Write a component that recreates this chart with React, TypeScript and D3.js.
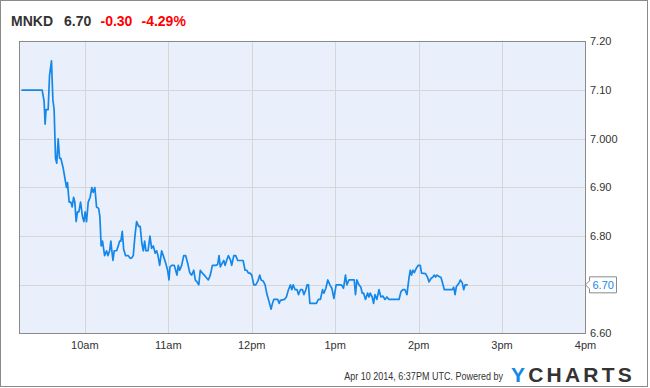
import React from "react";
import * as d3 from "d3";

// Ticker header
const ticker = "MNKD";
const lastPrice = "6.70";
const change = "-0.30";
const changePct = "-4.29%";

// Intraday series: minutes after midnight (ET) and price
const minutes = [
  554.4, 569.3, 570.7, 571.4, 572.1, 573.6, 574.6, 576.0, 577.0, 577.9, 578.9, 579.8, 580.8, 581.8, 582.7,
  584.4, 585.6, 586.8, 587.5, 588.7, 589.9, 590.9, 591.9, 592.8, 593.7, 594.7, 595.7, 596.9, 598.3, 599.3,
  600.2, 601.2, 602.4, 603.8, 605.0, 606.0, 607.2, 608.4, 609.9, 610.8, 611.7, 612.7, 614.2, 615.6, 616.6,
  617.8, 618.7, 619.4, 620.2, 621.1, 622.8, 624.0, 625.0, 625.9, 626.9, 627.9, 629.3, 631.2, 632.4, 633.6,
  634.8, 636.0, 637.2, 638.7, 639.8, 641.0, 642.0, 643.0, 643.9, 645.4, 646.8, 648.0, 649.2, 650.6, 651.6,
  652.6, 653.8, 655.2, 656.4, 658.1, 659.5, 660.5, 661.2, 662.4, 664.3, 665.3, 666.2, 667.2, 668.2, 669.6,
  671.1, 672.5, 673.9, 675.4, 676.8, 678.3, 679.4, 680.6, 681.9, 683.0, 684.5, 685.9, 687.3, 688.8, 690.2,
  691.7, 694.1, 695.5, 696.5, 697.4, 698.9, 699.9, 700.8, 702.2, 703.2, 704.6, 705.6, 707.1, 708.5, 709.9,
  713.8, 715.2, 716.4, 717.6, 718.8, 720.0, 721.5, 722.9, 724.3, 725.8, 726.7, 728.2, 729.6, 731.0, 732.5,
  733.9, 734.9, 735.9, 738.7, 739.7, 740.6, 743.5, 744.9, 746.4, 747.8, 748.8, 749.8, 751.2, 752.6, 753.6,
  755.0, 756.5, 757.5, 758.9, 759.8, 760.8, 761.8, 766.5, 767.9, 769.4, 770.9, 771.9, 773.3, 774.7, 776.2,
  777.6, 779.1, 780.7, 784.5, 786.0, 787.4, 788.4, 789.9, 793.7, 794.6, 795.6, 797.1, 798.5, 799.4, 800.4,
  801.8, 803.3, 804.3, 805.2, 806.6, 807.6, 808.6, 810.0, 811.5, 812.9, 814.3, 815.8, 817.2, 818.7, 825.9,
  827.3, 828.7, 830.2, 831.6, 833.1, 834.0, 834.9, 835.9, 836.9, 838.3, 839.8, 841.2, 842.1, 845.0, 846.5,
  847.5, 848.9, 850.3, 851.3, 852.2, 853.2, 854.7, 856.1, 857.0, 858.5, 864.2, 865.2, 866.2, 867.1, 868.1,
  869.1, 870.0, 871.4, 872.4, 873.4, 875.3,
];
const prices = [
  7.10, 7.10, 7.077, 7.03, 7.06, 7.06, 7.13, 7.16, 7.08, 7.06, 6.96, 6.95, 7.00, 6.96, 6.96,
  6.94, 6.92, 6.90, 6.91, 6.87, 6.87, 6.86, 6.88, 6.87, 6.83, 6.85, 6.85, 6.87, 6.84, 6.83,
  6.85, 6.83, 6.87, 6.88, 6.90, 6.89, 6.90, 6.86, 6.857, 6.84, 6.78, 6.79, 6.76, 6.77, 6.76,
  6.77, 6.79, 6.77, 6.75, 6.77, 6.77, 6.78, 6.79, 6.79, 6.81, 6.773, 6.76, 6.76, 6.755, 6.755,
  6.76, 6.80, 6.83, 6.82, 6.82, 6.785, 6.77, 6.79, 6.77, 6.77, 6.80, 6.775, 6.78, 6.765, 6.77,
  6.76, 6.74, 6.77, 6.76, 6.745, 6.73, 6.71, 6.737, 6.74, 6.74, 6.73, 6.72, 6.74, 6.73, 6.74,
  6.76, 6.76, 6.745, 6.725, 6.72, 6.73, 6.71, 6.706, 6.70, 6.73, 6.724, 6.72, 6.715, 6.71, 6.72,
  6.74, 6.74, 6.742, 6.76, 6.737, 6.745, 6.75, 6.74, 6.752, 6.76, 6.752, 6.74, 6.76, 6.76, 6.75,
  6.75, 6.73, 6.73, 6.724, 6.724, 6.72, 6.70, 6.70, 6.707, 6.72, 6.71, 6.708, 6.70, 6.68, 6.665,
  6.65, 6.662, 6.67, 6.67, 6.662, 6.668, 6.67, 6.675, 6.69, 6.70, 6.69, 6.70, 6.69, 6.69, 6.68,
  6.69, 6.69, 6.68, 6.69, 6.70, 6.70, 6.662, 6.662, 6.67, 6.67, 6.69, 6.683, 6.693, 6.71, 6.70,
  6.693, 6.672, 6.70, 6.70, 6.693, 6.72, 6.70, 6.71, 6.71, 6.68, 6.71, 6.70, 6.695, 6.683, 6.683,
  6.67, 6.683, 6.675, 6.683, 6.675, 6.662, 6.68, 6.67, 6.69, 6.675, 6.677, 6.67, 6.675, 6.67, 6.67,
  6.686, 6.69, 6.69, 6.68, 6.715, 6.73, 6.72, 6.73, 6.725, 6.734, 6.74, 6.74, 6.724, 6.723, 6.715,
  6.706, 6.713, 6.716, 6.72, 6.716, 6.72, 6.717, 6.715, 6.706, 6.69, 6.69, 6.695, 6.68, 6.696, 6.70,
  6.704, 6.71, 6.704, 6.69, 6.70, 6.70,
];

// Axes
const hourTicks = [600, 660, 720, 780, 840, 900, 960];
const hourLabels = ["10am", "11am", "12pm", "1pm", "2pm", "3pm", "4pm"];
const priceTicks = [6.6, 6.7, 6.8, 6.9, 7.0, 7.1, 7.2];
const priceLabels = ["6.60", "6.70", "6.80", "6.90", "7.000", "7.10", "7.20"];

const footer = "Apr 10 2014, 6:37PM UTC.  Powered by";

export default function App() {
  const W = 650;
  const H = 388;
  const left = 19.5;
  const right = 585.5;
  const top = 41.5;
  const bottom = 333.5;

  const x = d3.scaleLinear().domain([553, 960]).range([left, right]);
  const y = d3.scaleLinear().domain([6.6, 7.2]).range([bottom, top]);

  const data = minutes.map((m, i) => [m, prices[i]] as [number, number]);
  const line = d3
    .line<[number, number]>()
    .x((d) => x(d[0]))
    .y((d) => y(d[1]))(data) as string;

  const last = prices[prices.length - 1];
  const ly = y(last);
  const font = "Arial, 'Liberation Sans', Helvetica, sans-serif";

  return (
    <svg
      width={W}
      height={H}
      style={{ position: "absolute", left: 0, top: 0, background: "#fff" }}
      fontFamily={font}
    >
      <rect x={0.5} y={0.5} width={647} height={386} fill="#fff" stroke="#8a8a8a" />
      <text x={11} y={26} fontSize={14} fontWeight="bold">
        <tspan fill="#333">{ticker}</tspan>
        <tspan fill="#333" x={64}>{lastPrice}</tspan>
        <tspan fill="#f00" x={100.5}>{change}</tspan>
        <tspan fill="#f00" x={141.5}>{changePct}</tspan>
      </text>

      <rect x={left} y={top} width={right - left} height={bottom - top} fill="#eaf0fb" />
      {priceTicks.slice(1, -1).map((p) => (
        <line key={p} x1={left} x2={right} y1={Math.round(y(p)) + 0.5} y2={Math.round(y(p)) + 0.5} stroke="#d6d6d6" />
      ))}
      {hourTicks.slice(0, -1).map((h) => (
        <line key={h} x1={Math.round(x(h)) + 0.5} x2={Math.round(x(h)) + 0.5} y1={top} y2={bottom} stroke="#d6d6d6" />
      ))}
      <rect x={left} y={top} width={right - left} height={bottom - top} fill="none" stroke="#8a8a8a" />

      <path d={line} fill="none" stroke="#1587e8" strokeWidth={1.7} strokeLinejoin="round" />

      {priceTicks.map((p, i) =>
        i === 1 ? null : (
          <text key={p} x={590} y={y(p)} dy="0.35em" fontSize={11} fill="#333">
            {priceLabels[i]}
          </text>
        )
      )}
      {hourTicks.map((h, i) => (
        <text key={h} x={x(h)} y={349} fontSize={11} fill="#333" textAnchor="middle">
          {hourLabels[i]}
        </text>
      ))}

      <path
        d={`M${right},${ly} L${right + 4},${ly - 4} L${right + 4},${ly - 8} L${right + 31},${ly - 8} L${right + 31},${ly + 8} L${right + 4},${ly + 8} L${right + 4},${ly + 4} Z`}
        fill="#fff"
        stroke="#8a8a8a"
      />
      <text x={right + 7} y={ly} dy="0.35em" fontSize={11} fill="#1587e8">
        {last.toFixed(2)}
      </text>

      <text transform="translate(503,380) scale(0.82,1)" fontSize={11} fill="#333" textAnchor="end">
        {footer}
      </text>
      <text x={511} y={382} fontSize={21} fontWeight="900" letterSpacing={3.2}>
        <tspan fill="#1587e8">Y</tspan>
        <tspan fill="#333">CHARTS</tspan>
      </text>
    </svg>
  );
}
